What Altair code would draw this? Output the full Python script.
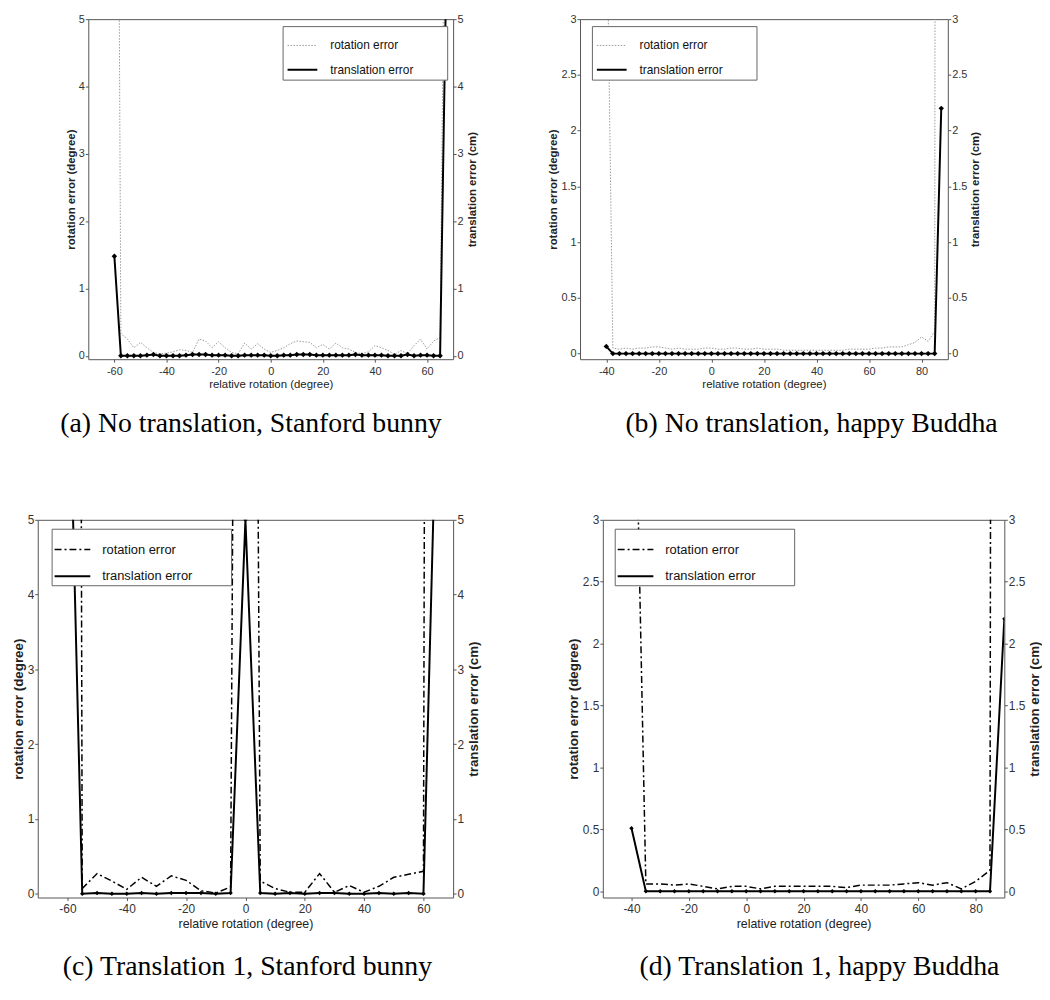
import altair as alt
import pandas as pd

# ---------------- data ----------------
# (a) No translation, Stanford bunny
a_x = [-60, -57.5, -55, -52.5, -50, -47.5, -45, -42.5, -40, -37.5, -35, -32.5,
       -30, -27.5, -25, -22.5, -20, -17.5, -15, -12.5, -10, -7.5, -5, -2.5,
       0, 2.5, 5, 7.5, 10, 12.5, 15, 17.5, 20, 22.5, 25, 27.5,
       30, 32.5, 35, 37.5, 40, 42.5, 45, 47.5, 50, 52.5, 55, 57.5,
       60, 62.5, 65, 67.5]
a_rot = [20, 0.33, 0.25, 0.12, 0.20, 0.12, 0.05, 0.03, 0.04, 0.06, 0.09, 0.08,
         0.05, 0.25, 0.22, 0.12, 0.21, 0.12, 0.05, 0.03, 0.19, 0.10, 0.18, 0.10,
         0.05, 0.08, 0.12, 0.18, 0.22, 0.21, 0.20, 0.12, 0.17, 0.10, 0.19, 0.12,
         0.10, 0.05, 0.03, 0.06, 0.15, 0.12, 0.08, 0.02, 0.08, 0.03, 0.15, 0.25,
         0.10, 0.22, 0.27, 10]
a_trans = [1.48, 0, 0, 0, 0, 0.01, 0.02, 0, 0, 0, 0, 0.01,
           0.02, 0.02, 0.02, 0.01, 0.01, 0.01, 0, 0, 0.01, 0.01, 0.01, 0.01,
           0, 0, 0.01, 0.01, 0.02, 0.02, 0.02, 0.01, 0.01, 0.01, 0.01, 0.01,
           0.01, 0.02, 0.01, 0.01, 0.01, 0.01, 0, 0, 0, 0.02, 0, 0.01,
           0.01, 0, 0, 6]

# (b) No translation, happy Buddha
b_x = [-40, -37.5, -35, -32.5, -30, -27.5, -25, -22.5, -20, -17.5, -15, -12.5,
       -10, -7.5, -5, -2.5, 0, 2.5, 5, 7.5, 10, 12.5, 15, 17.5,
       20, 22.5, 25, 27.5, 30, 32.5, 35, 37.5, 40, 42.5, 45, 47.5,
       50, 52.5, 55, 57.5, 60, 62.5, 65, 67.5, 70, 72.5, 75, 77.5,
       80, 82.5, 85, 87.5]
b_rot = [4.3, 0.05, 0.04, 0.05, 0.04, 0.05, 0.05, 0.06, 0.06, 0.05, 0.04, 0.05,
         0.04, 0.04, 0.04, 0.05, 0.05, 0.04, 0.04, 0.05, 0.05, 0.04, 0.04, 0.05,
         0.04, 0.04, 0.04, 0.03, 0.03, 0.03, 0.03, 0.03, 0.03, 0.03, 0.03, 0.03,
         0.03, 0.04, 0.04, 0.04, 0.04, 0.05, 0.05, 0.06, 0.06, 0.06, 0.08, 0.10,
         0.15, 0.11, 0.20, 60]
b_trans = [0.065, 0, 0, 0, 0, 0, 0, 0, 0, 0, 0, 0,
           0, 0, 0, 0, 0, 0, 0, 0, 0, 0, 0, 0,
           0, 0, 0, 0, 0, 0, 0, 0, 0, 0, 0, 0,
           0, 0, 0, 0, 0, 0, 0, 0, 0, 0, 0, 0,
           0, 0, 0, 2.2]

# (c) Translation 1, Stanford bunny
c_x = [-60, -55, -50, -45, -40, -35, -30, -25, -20, -15, -10, -5,
       0, 5, 10, 15, 20, 25, 30, 35, 40, 45, 50, 55, 60, 65]
c_rot = [80, 0.07, 0.27, 0.17, 0.06, 0.22, 0.10, 0.24, 0.18, 0.04, 0.01, 0.09,
         35, 0.17, 0.07, 0.02, 0.02, 0.27, 0.02, 0.11, 0.02, 0.10, 0.22, 0.26, 0.30, 80]
c_trans = [8.1, 0, 0.01, 0, 0, 0.01, 0, 0.01, 0.01, 0.01, 0, 0.01,
           5.0, 0.01, 0, 0.01, 0, 0.01, 0.01, 0, 0, 0.01, 0, 0.01, 0, 7.6]

# (d) Translation 1, happy Buddha
d_x = [-40, -35, -30, -25, -20, -15, -10, -5, 0, 5, 10, 15, 20, 25,
       30, 35, 40, 45, 50, 55, 60, 65, 70, 75, 80, 85, 90]
d_rot = [5.7, 0.06, 0.06, 0.05, 0.06, 0.04, 0.02, 0.04, 0.04, 0.02, 0.04, 0.04, 0.04, 0.04,
         0.04, 0.03, 0.05, 0.05, 0.05, 0.06, 0.07, 0.05, 0.07, 0.02, 0.08, 0.17, 80]
d_trans = [0.51, 0, 0, 0, 0, 0, 0, 0, 0, 0, 0, 0, 0, 0,
           0, 0, 0, 0, 0, 0, 0, 0, 0, 0, 0, 0, 2.2]

for xs, r, t in [(a_x, a_rot, a_trans), (b_x, b_rot, b_trans),
                 (c_x, c_rot, c_trans), (d_x, d_rot, d_trans)]:
    assert len(xs) == len(r) == len(t), (len(xs), len(r), len(t))

ticks_x_ac = [-60, -40, -20, 0, 20, 40, 60]
ticks_x_bd = [-40, -20, 0, 20, 40, 60, 80]
ticks_y5 = [0, 1, 2, 3, 4, 5]
ticks_y3 = [0, 0.5, 1, 1.5, 2, 2.5, 3]

SERIES = ["rotation error", "translation error"]


def panel(xs, rot, trans, xdom, ydom, xticks, yticks, w, h, rot_color, rot_dash,
          rot_w, trans_w, mk_size, leg_x, leg_y, leg_fs, leg_sym, leg_pad, leg_row,
          leg_off, leg_fill, caption, cap_dx, cap_off, lab_fs, ytitle_fs, xtitle_fs):
    df_r = pd.DataFrame({"x": xs, "y": rot, "series": SERIES[0]})
    df_t = pd.DataFrame({"x": xs, "y": trans})
    xscale = alt.Scale(domain=xdom, nice=False, zero=False)
    xaxis = alt.Axis(values=xticks, title="relative rotation (degree)",
                     labelExpr="toString(datum.value)", labelFontSize=lab_fs,
                     titleFontSize=xtitle_fs, titleFontWeight="normal",
                     labelPadding=3, titlePadding=3)
    # the (invisible) right-hand legend title only widens the legend box
    leg = alt.Legend(title=leg_fill, titleOrient="right", titleColor="transparent",
                     titlePadding=0, titleFontSize=12,
                     orient="none", legendX=leg_x, legendY=leg_y,
                     symbolType="stroke", symbolSize=leg_sym * leg_sym,
                     labelFont="Liberation Sans", labelFontSize=leg_fs,
                     labelColor="#111", strokeColor="#666", fillColor="white",
                     padding=leg_pad, rowPadding=leg_row, labelOffset=leg_off,
                     labelLimit=400)
    rot_layer = alt.Chart(df_r).mark_line(clip=True).encode(
        x=alt.X("x:Q", scale=xscale, axis=xaxis),
        y=alt.Y("y:Q", scale=alt.Scale(domain=ydom, nice=False, zero=False),
                axis=alt.Axis(orient="left", values=yticks,
                              title="rotation error (degree)",
                              labelExpr="toString(datum.value)",
                              labelFontSize=lab_fs, titleFontSize=ytitle_fs,
                              titleFontWeight="bold", labelPadding=1,
                              titlePadding=2)),
        color=alt.Color("series:N", scale=alt.Scale(domain=SERIES,
                        range=[rot_color, "black"]), legend=leg),
        strokeDash=alt.StrokeDash("series:N", scale=alt.Scale(domain=SERIES,
                                  range=[rot_dash, [1, 0]]), legend=leg),
        strokeWidth=alt.StrokeWidth("series:N", scale=alt.Scale(domain=SERIES,
                                    range=[rot_w, trans_w]), legend=leg),
    )
    trans_layer = alt.Chart(df_t).mark_line(
        clip=True, color="black", strokeWidth=trans_w,
        point=alt.OverlayMarkDef(filled=True, fill="black", color="black",
                                 shape="diamond", size=mk_size, clip=True),
    ).encode(
        x=alt.X("x:Q", scale=xscale, axis=xaxis),
        y=alt.Y("y:Q", scale=alt.Scale(domain=ydom, nice=False, zero=False),
                axis=alt.Axis(orient="right", values=yticks,
                              title="translation error (cm)", titleAngle=270,
                              titleBaseline="top",
                              labelExpr="toString(datum.value)",
                              labelFontSize=lab_fs, titleFontSize=ytitle_fs,
                              titleFontWeight="bold", labelPadding=1,
                              titlePadding=3)),
    )
    return alt.layer(rot_layer, trans_layer).resolve_scale(
        y="independent"
    ).properties(
        width=w, height=h,
        title=alt.TitleParams(caption, orient="bottom", anchor="middle",
                              frame="group", font="Liberation Serif",
                              fontSize=28, fontWeight="normal", color="black",
                              dx=cap_dx, offset=cap_off),
    )


DOT = [1.5, 1.5]
DASHDOT = [7, 3, 2, 3]

pa = panel(a_x, a_rot, a_trans, [-70, 70], [-0.05, 5], ticks_x_ac, ticks_y5,
           368, 343, "#9a9a9a", DOT, 1, 2, 30, 196, 7, 12, 30, 4, 2, 12, "nnnn",
           "(a) No translation, Stanford bunny", -20, 20, 11, 11.5, 11.5)
pb = panel(b_x, b_rot, b_trans, [-50, 90], [-0.05, 3], ticks_x_bd, ticks_y3,
           371, 343, "#9a9a9a", DOT, 1, 2, 30, 12, 7, 12, 30, 4, 2, 12, "nnnn",
           "(b) No translation, happy Buddha", 48, 20, 11, 11.5, 11.5)
pc = panel(c_x, c_rot, c_trans, [-70, 70], [-0.05, 5], ticks_x_ac, ticks_y5,
           419, 381, "black", DASHDOT, 1.5, 2, 20, 14, 9, 13, 36, 2, 1, 11, "nnnnn",
           "(c) Translation 1, Stanford bunny", 2, 24, 12, 13.5, 12.5)
pd_ = panel(d_x, d_rot, d_trans, [-50, 90], [-0.05, 3], ticks_x_bd, ticks_y3,
            405, 381, "black", DASHDOT, 1.5, 2, 20, 12, 9, 13, 36, 2, 1, 11, "nnnnn",
            "(d) Translation 1, happy Buddha", 16, 24, 12, 13.5, 12.5)


def spacer(w, h):
    return alt.Chart(pd.DataFrame({"v": pd.Series([], dtype="float")})).mark_point().encode(
        x=alt.X("v:Q", axis=None), y=alt.Y("v:Q", axis=None)
    ).properties(width=w, height=h, view=alt.ViewBackground(stroke="transparent"))


RES = dict(x="independent", y="independent", color="independent",
           strokeDash="independent", strokeWidth="independent")

row1 = alt.hconcat(spacer(51, 343), pa, spacer(128, 343), pb,
                   spacing=0, bounds="flush").resolve_scale(**RES)
row2 = alt.hconcat(pc, pd_, spacing=151, bounds="flush").resolve_scale(**RES)

chart = alt.vconcat(row1, row2, spacing=75).resolve_scale(**RES).properties(
    padding={"left": 2, "top": 0, "right": 0, "bottom": 0},
    background="white",
).configure_view(stroke="#555", strokeWidth=1).configure_axis(
    domain=False, grid=False, tickColor="#555", tickSize=3, tickWidth=1,
    labelFont="Liberation Sans", labelColor="#333",
    titleFont="Liberation Sans", titleColor="#222",
).configure_legend(symbolStrokeColor="black")

chart.save("out.html", embed_options={"renderer": "svg", "actions": False})
